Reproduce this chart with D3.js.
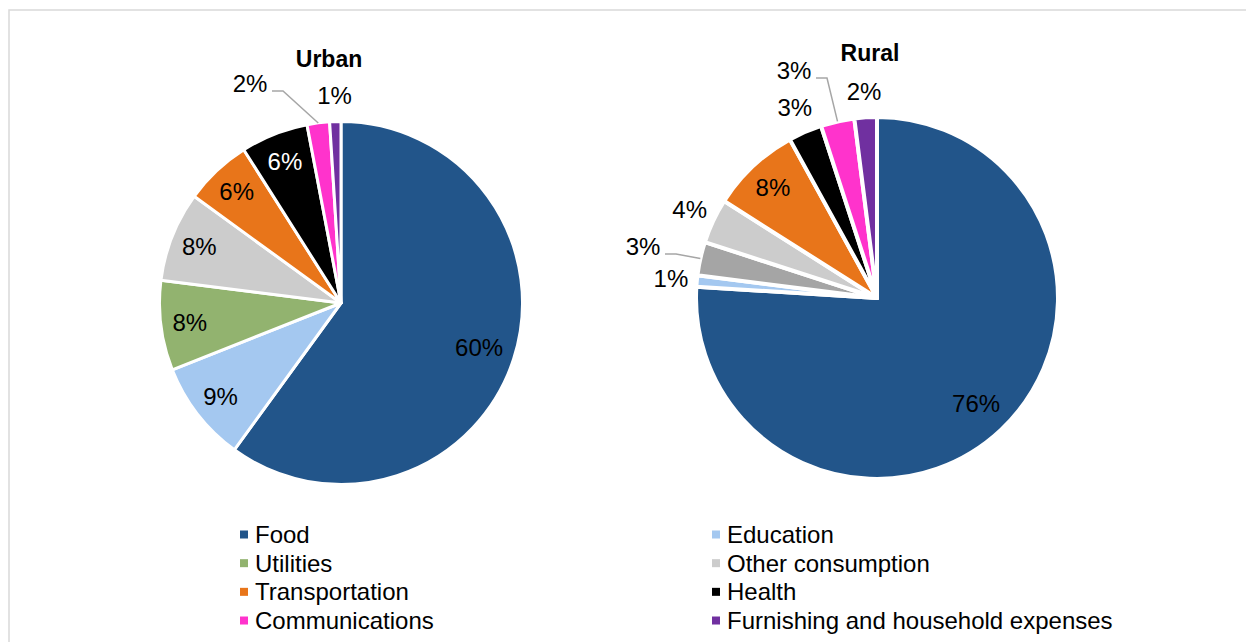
<html>
<head>
  <script src="https://d3js.org/d3.v7.min.js"></script>
  <style>
    body { margin: 0; background: white; }
    text { font-family: "Liberation Sans", Arial, sans-serif; }
    .pTitle { font-weight: bold; font-size: 23px; fill: black; }
    .pLabel { font-size: 24px; }
    .legText { font-size: 24px; fill: black; }
  </style>
</head>
<body>
  <svg id="vis" width="1246" height="642"></svg>
  <script>
    // data
    const categories = ["Food", "Education", "Utilities", "Other consumption",
      "Transportation", "Health", "Communications", "Furnishing and household expenses"];
    const urbanValues = [60, 9, 8, 8, 6, 6, 2, 1];
    const ruralValues = [76, 1, 3, 4, 8, 3, 3, 2];
    const colorList = ["#22558A", "#A4C8F0", "#92B36F", "#CCCCCC", "#E8751A", "#000000", "#FF33CC", "#7030A0"];
    // rural utilities slice is drawn in gray in the source
    const ruralColorList = ["#22558A", "#A4C8F0", "#A5A5A5", "#CCCCCC", "#E8751A", "#000000", "#FF33CC", "#7030A0"];

    let svg = d3.select("svg#vis");

    // frame
    svg.append("rect")
      .attr("x", 9).attr("y", 10)
      .attr("width", 1400).attr("height", 800)
      .attr("fill", "none")
      .attr("stroke", "#D9D9D9")
      .attr("stroke-width", 1.5);

    let colorScale = d3.scaleOrdinal(categories, colorList);
    let ruralScale = d3.scaleOrdinal(categories, ruralColorList);

    function drawPie(opts) {
      let g = svg.append("g").attr("transform", `translate(${opts.cx}, ${opts.cy})`);
      let rows = categories.map((c, i) => ({ cat: c, value: opts.values[i] }));
      let pie = d3.pie().sort(null).value(d => d.value);
      let arcs = pie(rows);
      let arc = d3.arc().innerRadius(0).outerRadius(opts.r);

      g.selectAll("path").data(arcs)
        .join("path")
        .attr("d", arc)
        .attr("fill", d => opts.color(d.data.cat))
        .attr("stroke", "white")
        .attr("stroke-width", opts.stroke)
        .attr("stroke-linejoin", "round");

      arcs.forEach(d => {
        let mid = (d.startAngle + d.endAngle) / 2;
        let sx = Math.sin(mid), sy = -Math.cos(mid);
        let lx, ly, fill = "black";
        let moved = opts.leaders[d.index];
        if (moved) {
          lx = moved[0]; ly = moved[1];
          let edgeX = opts.r * sx, edgeY = opts.r * sy;
          let startX = lx + 22 * moved[2];
          let y0 = ly + 7;
          g.append("path")
            .attr("d", `M${startX},${y0} L${startX + 11 * moved[2]},${y0} L${edgeX},${edgeY}`)
            .attr("fill", "none")
            .attr("stroke", "#A6A6A6")
            .attr("stroke-width", 1.5);
        } else if (d.data.value >= 6) {
          let lr = d.index == 0 ? opts.r * 0.8 : opts.r * 0.84;
          lx = lr * sx; ly = lr * sy;
          if (opts.color(d.data.cat) == "#000000") fill = "white";
        } else {
          let lr = opts.r + 26;
          lx = lr * sx; ly = lr * sy;
        }
        g.append("text")
          .attr("class", "pLabel")
          .attr("x", lx).attr("y", ly)
          .attr("text-anchor", "middle")
          .attr("dy", "0.35em")
          .attr("fill", fill)
          .text(d.data.value + "%");
      });

      svg.append("text")
        .attr("class", "pTitle")
        .attr("x", opts.tx).attr("y", opts.ty)
        .attr("text-anchor", "middle")
        .text(opts.title);
    }

    drawPie({
      title: "Urban", tx: 329, ty: 67,
      cx: 341, cy: 303, r: 181.5, stroke: 3,
      values: urbanValues, color: colorScale,
      leaders: { 6: [-91, -219, 1] }
    });

    drawPie({
      title: "Rural", tx: 870, ty: 61,
      cx: 877, cy: 298, r: 181, stroke: 4,
      values: ruralValues, color: ruralScale,
      leaders: { 2: [-234, -51, 1], 6: [-83, -227, 1] }
    });

    // legend
    let legX = [240, 712];
    let textX = [255, 727];
    let rowH = 28.67;
    let legG = svg.append("g");
    categories.forEach((c, i) => {
      let col = i % 2, row = Math.floor(i / 2);
      let base = 543 + row * rowH;
      legG.append("rect")
        .attr("x", legX[col]).attr("y", base - 12.5)
        .attr("width", 8).attr("height", 8)
        .attr("fill", colorList[i]);
      legG.append("text")
        .attr("class", "legText")
        .attr("x", textX[col]).attr("y", base)
        .text(c);
    });
  </script>
</body>
</html>
